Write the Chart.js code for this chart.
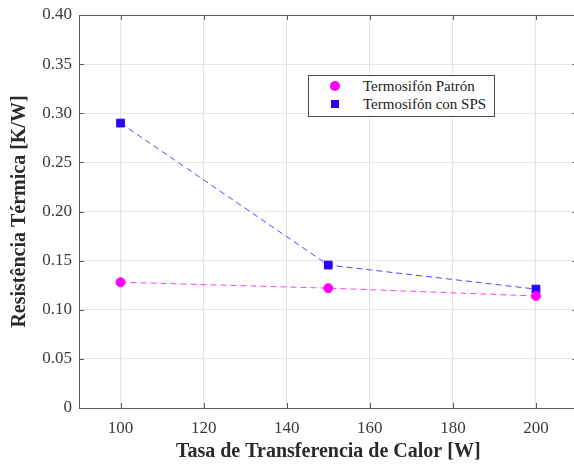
<!DOCTYPE html>
<html>
<head>
<meta charset="utf-8">
<script src="https://cdn.jsdelivr.net/npm/chart.js@4.4.1/dist/chart.umd.min.js"></script>
<style>
  html, body { margin: 0; padding: 0; background: #fff; overflow: hidden; }
  #wrap { position: relative; width: 574px; height: 466px; overflow: hidden; }
  #c { position: absolute; left: 0; top: 0; }
  #legend { position: absolute; left: 308px; top: 75px; width: 185px; height: 40px;
    border: 1px solid #4a4a4a; background: #fff; font-family: "Liberation Serif", "Times New Roman", serif;
    font-size: 15px; color: #222; }
  .row { position: absolute; left: 0; height: 18px; line-height: 18px; white-space: nowrap; }
  .mk { position: absolute; }
  .txt { position: absolute; left: 54px; top: 0; }
</style>
</head>
<body>
<div id="wrap">
  <canvas id="c" width="584" height="466"></canvas>
  <div id="legend">
    <div class="row" style="top:1px;"><span class="mk" style="left:21px;top:4px;width:10px;height:10px;border-radius:50%;background:#ff00ff;"></span><span class="txt">Termosifón Patrón</span></div>
    <div class="row" style="top:19px;"><span class="mk" style="left:22px;top:5px;width:8px;height:8px;background:#2a00ff;"></span><span class="txt">Termosifón con SPS</span></div>
  </div>
</div>
<script>
const heatRate = [100, 150, 200];
const patronValues = [0.128, 0.122, 0.114];
const spsValues = [0.290, 0.1455, 0.121];
const xTicks = [100, 120, 140, 160, 180, 200];
const yTicks = [0, 0.05, 0.10, 0.15, 0.20, 0.25, 0.30, 0.35, 0.40];

const frame = {
  id: 'frame',
  afterDraw(chart) {
    const {ctx, chartArea: a, scales: {x, y}} = chart;
    ctx.save();
    ctx.strokeStyle = '#5a5a5a';
    ctx.lineWidth = 1;
    ctx.beginPath();
    xTicks.forEach(v => {
      const px = Math.round(x.getPixelForValue(v)) + 0.5;
      ctx.moveTo(px, a.bottom); ctx.lineTo(px, a.bottom - 5);
      ctx.moveTo(px, a.top); ctx.lineTo(px, a.top + 5);
    });
    yTicks.forEach(v => {
      const py = Math.round(y.getPixelForValue(v)) + 0.5;
      ctx.moveTo(a.left, py); ctx.lineTo(a.left + 5, py);
      ctx.moveTo(a.right, py); ctx.lineTo(a.right - 5, py);
    });
    const L = Math.round(a.left) + 0.5, T = Math.round(a.top) + 0.5, B = Math.round(a.bottom) + 0.5;
    ctx.moveTo(L, T); ctx.lineTo(a.right, T);
    ctx.moveTo(L, T); ctx.lineTo(L, B);
    ctx.moveTo(L, B); ctx.lineTo(a.right, B);
    ctx.stroke();
    ctx.restore();
  }
};

const noPad = s => { s.paddingTop = 0; s.paddingBottom = 0; s.paddingLeft = 0; s.paddingRight = 0; };

new Chart(document.getElementById('c'), {
  type: 'line',
  data: {
    datasets: [
      {
        label: 'Termosifón Patrón',
        data: heatRate.map((v, i) => ({x: v, y: patronValues[i]})),
        borderColor: 'rgba(255,0,255,0.75)',
        backgroundColor: '#ff00ff',
        pointBackgroundColor: '#ff00ff',
        pointBorderColor: '#ff00ff',
        pointStyle: 'circle',
        pointRadius: 4.5,
        borderWidth: 1,
        borderDash: [6, 4],
        tension: 0
      },
      {
        label: 'Termosifón con SPS',
        data: heatRate.map((v, i) => ({x: v, y: spsValues[i]})),
        borderColor: 'rgba(42,0,255,0.75)',
        backgroundColor: '#2a00ff',
        pointBackgroundColor: '#2a00ff',
        pointBorderColor: '#2a00ff',
        pointStyle: 'rect',
        pointRadius: 5.5,
        borderWidth: 1,
        borderDash: [6, 4],
        tension: 0
      }
    ]
  },
  options: {
    responsive: false,
    animation: false,
    events: [],
    layout: { padding: { top: 15, right: 0, left: 0, bottom: 0 } },
    plugins: { legend: { display: false }, tooltip: { enabled: false } },
    scales: {
      x: {
        type: 'linear',
        min: 90,
        max: 210,
        afterBuildTicks: s => { s.ticks = xTicks.map(v => ({value: v})); },
        afterFit: s => { s.height = 58; noPad(s); },
        grid: { color: '#e2e2e2', drawTicks: false },
        border: { display: false },
        ticks: { padding: 10, color: '#3a3a3a', font: { family: 'Liberation Serif', size: 17 }, maxRotation: 0 },
        title: { display: true, text: 'Tasa de Transferencia de Calor [W]', color: '#2a2a2a',
          font: { family: 'Liberation Serif', size: 20, weight: 'bold' }, padding: { top: 0, bottom: 2 } }
      },
      y: {
        type: 'linear',
        min: 0,
        max: 0.4,
        afterBuildTicks: s => { s.ticks = yTicks.map(v => ({value: v})); },
        afterFit: s => { s.width = 79; noPad(s); },
        grid: { color: '#e6e6e6', drawTicks: false },
        border: { display: false },
        ticks: { padding: 7, color: '#3a3a3a', font: { family: 'Liberation Serif', size: 17 },
          callback: v => v === 0 ? '0' : v.toFixed(2) },
        title: { display: true, text: 'Resistência Térmica [K/W]', color: '#2a2a2a',
          font: { family: 'Liberation Serif', size: 20, weight: 'bold' }, padding: { top: 8, bottom: 0 } }
      }
    }
  },
  plugins: [frame]
});
</script>
</body>
</html>
